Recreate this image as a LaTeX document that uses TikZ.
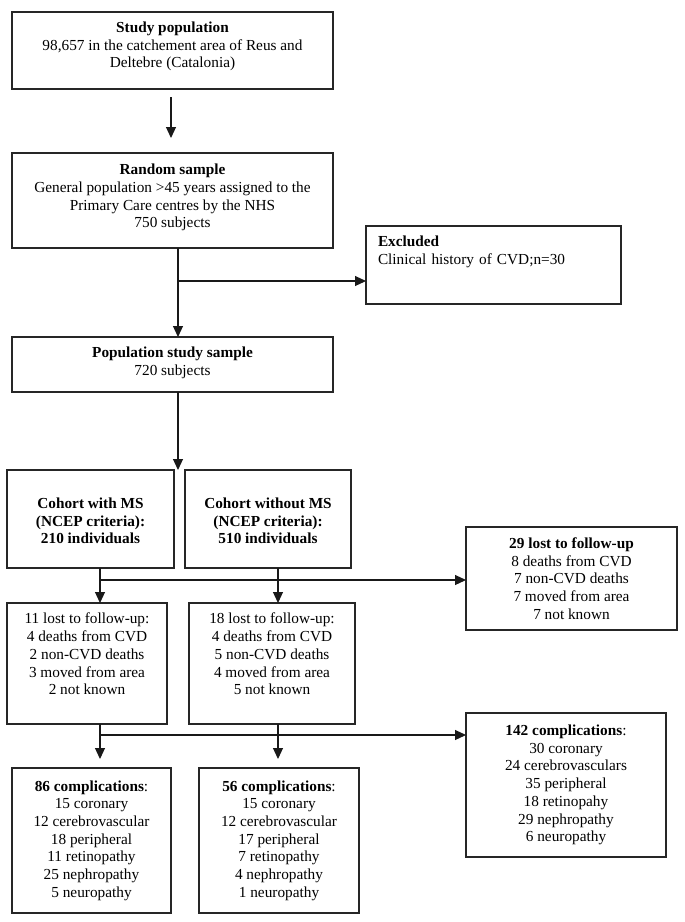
\documentclass[tikz,border=0pt]{standalone}
\usepackage{fontspec}
\setmainfont{Liberation Serif}
\usetikzlibrary{positioning,arrows.meta,calc}
\tikzstyle{cbox}=[rectangle, draw=black!85, line width=1.1pt, inner sep=0pt, outer sep=0pt,
                  align=center, font=\fontsize{15.3pt}{17.7pt}\selectfont]
\tikzstyle{pline}=[-, line width=1.1pt, draw=black!90]
\tikzstyle{parrow}=[pline, -{Triangle[length=11pt,width=10pt]}]
% invisible height above the first line / depth below the last line of a box
\newcommand{\tpad}[1]{\rule{0pt}{#1}}
\newcommand{\bpad}[1]{\rule[-#1]{0pt}{#1}}

\begin{document}
\begin{tikzpicture}[node distance=0mm]
\useasboundingbox (0,0) rectangle (685pt,-922pt);

\node (STUDY) [cbox, minimum width=321pt, minimum height=77pt, anchor=north west
] at (12pt,-12pt) {\textbf{Study population}\\98,657 in the catchement area of Reus and\\Deltebre (Catalonia)\bpad{11.3pt}};
\node (RAND) [cbox, minimum width=321pt, minimum height=95pt, below=64pt of STUDY
] {\textbf{Random sample}\\General population >45 years assigned to the\\Primary Care centres by the NHS\\750 subjects\bpad{9.3pt}};
\node (EXCL) [cbox, minimum width=255pt, minimum height=78pt, text width=231pt, align=left,
 right=33pt of RAND.north east, anchor=north west, yshift=-73pt] {\textbf{Excluded}\\Clinical history of CVD;n=30\\[6.6pt]\strut};
\node (POP) [cbox, minimum width=321pt, minimum height=55pt, below=89pt of RAND
] {\textbf{Population study sample}\\720 subjects\bpad{7.3pt}};

\node (MSYES) [cbox, minimum width=167pt, minimum height=98pt,
 below=78pt of POP.south west, anchor=north west, xshift=-5pt] {\tpad{14.5pt}\textbf{Cohort with MS}\\\textbf{(NCEP criteria):}\\\textbf{210 individuals}};
\node (MSNO) [cbox, minimum width=166pt, minimum height=98pt, right=11pt of MSYES
] {\tpad{14.5pt}\textbf{Cohort without MS}\\\textbf{(NCEP criteria):}\\\textbf{510 individuals}};
\node (LOST29) [cbox, minimum width=211pt, minimum height=103pt,
 right=115pt of MSNO.north east, anchor=north west, yshift=-57pt] {\textbf{29 lost to follow-up}\\8 deaths from CVD\\7 non-CVD deaths\\7 moved from area\\7 not known};

\node (LOST11) [cbox, minimum width=160pt, minimum height=121pt,
 below=35pt of MSYES.south west, anchor=north west] {11 lost to follow-up:\\4 deaths from CVD\\2 non-CVD deaths\\3 moved from area\\2 not known\bpad{19pt}};
\node (LOST18) [cbox, minimum width=166pt, minimum height=121pt, right=22pt of LOST11
] {18 lost to follow-up:\\4 deaths from CVD\\5 non-CVD deaths\\4 moved from area\\5 not known\bpad{19pt}};

\node (C86) [cbox, minimum width=159pt, minimum height=145pt,
 below=44pt of LOST11.south west, anchor=north west, xshift=5pt] {\textbf{86 complications}:\\15 coronary\\12 cerebrovascular\\18 peripheral\\11 retinopathy\\25 nephropathy\\5 neuropathy};
\node (C56) [cbox, minimum width=160pt, minimum height=145pt, right=28pt of C86
] {\textbf{56 complications}:\\15 coronary\\12 cerebrovascular\\17 peripheral\\7 retinopathy\\4 nephropathy\\1 neuropathy};
\node (C142) [cbox, minimum width=200pt, minimum height=144pt,
 below=83pt of LOST29.south west, anchor=north west] {\textbf{142 complications}:\\30 coronary\\24 cerebrovasculars\\35 peripheral\\18 retinopahy\\29 nephropathy\\6 neuropathy};

% main column
 \draw[parrow] ([xshift=-1.5pt,yshift=-8pt]STUDY.south) -- ([xshift=-1.5pt,yshift=15pt]RAND.north);
 \draw[parrow] ([xshift=5.5pt]RAND.south) -- ([xshift=5.5pt]POP.north);
\coordinate (RANDSPLIT) at ([xshift=5.5pt,yshift=-33pt]RAND.south);
 \draw[parrow] (RANDSPLIT) -- (RANDSPLIT -| EXCL.west);
\coordinate (POPOUT) at ([xshift=5.5pt]POP.south);
 \draw[parrow] (POPOUT) -- (POPOUT |- MSYES.north);

% cohorts
\coordinate (MSYESOUT) at ([xshift=9.5pt]MSYES.south);
\coordinate (MSNOOUT) at ([xshift=10pt]MSNO.south);
 \draw[parrow] (MSYESOUT) -- (MSYESOUT |- LOST11.north);
 \draw[parrow] (MSNOOUT) -- (MSNOOUT |- LOST18.north);
\coordinate (MSSPLIT) at ([yshift=-12pt]MSYESOUT);
 \draw[parrow] (MSSPLIT) -- (MSSPLIT -| LOST29.west);

% complications
\coordinate (LOST11OUT) at (LOST11.south -| MSYESOUT);
\coordinate (LOST18OUT) at (LOST18.south -| MSNOOUT);
 \draw[parrow, shorten >=9pt] (LOST11OUT) -- (LOST11OUT |- C86.north);
 \draw[parrow, shorten >=9pt] (LOST18OUT) -- (LOST18OUT |- C56.north);
\coordinate (LOSTSPLIT) at ([yshift=-11pt]LOST11OUT);
 \draw[parrow] (LOSTSPLIT) -- (LOSTSPLIT -| C142.west);

\end{tikzpicture}
\end{document}
